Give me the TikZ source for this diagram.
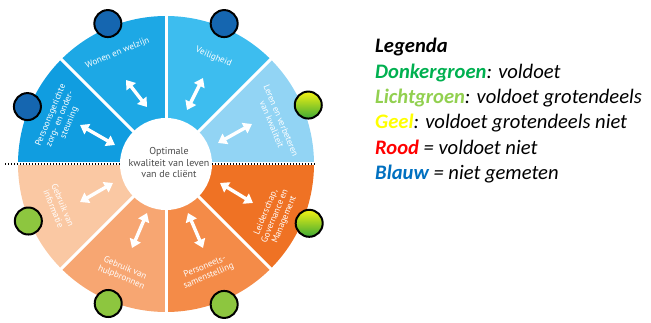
\documentclass[tikz,border=0pt]{standalone}
\usepackage{fontspec}
\setmainfont{PT Sans}
\newfontfamily\legendfont{Carlito}
\usetikzlibrary{arrows.meta}

\definecolor{segLeren}{HTML}{92D4F4}
\definecolor{segVeilig}{HTML}{3DBDEF}
\definecolor{segWonen}{HTML}{1DA8E5}
\definecolor{segPersoon}{HTML}{109DE0}
\definecolor{segInfo}{HTML}{FAC8A3}
\definecolor{segHulp}{HTML}{F7A672}
\definecolor{segPersoneel}{HTML}{F48B48}
\definecolor{segLeider}{HTML}{EF7224}
\definecolor{dotBlue}{HTML}{1566B0}
\definecolor{dotGreen}{HTML}{8DC63F}
\definecolor{dotYellow}{HTML}{F4F213}
\definecolor{dotDark}{HTML}{3DAA35}
\definecolor{centerText}{HTML}{4A4A4A}
\definecolor{donkergroen}{HTML}{00B050}
\definecolor{lichtgroen}{HTML}{92D050}
\definecolor{geel}{HTML}{FFFF00}
\definecolor{rood}{HTML}{FF0000}
\definecolor{blauw}{HTML}{0070C0}

\begin{document}
\begin{tikzpicture}[x=1pt, y=1pt,
  seglabel/.style={text=white, font=\fontsize{9}{10}\selectfont, align=center, inner sep=0pt},
  dualarrow/.style={white, line width=3.4pt, {Triangle[width=11.5pt,length=8.5pt]}-{Triangle[width=11.5pt,length=8.5pt]}},
  statusdot/.style={circle, draw=black, line width=2pt, minimum size=27pt, inner sep=0pt},
  legendline/.style={anchor=base west, inner sep=0pt, font=\legendfont\itshape\fontsize{20.6}{24}\selectfont}]
\useasboundingbox (0,0) rectangle (651,-323);

\begin{scope}[shift={(166,-164)}]
% segments of the wheel
\foreach \a/\c in {0/segLeren, 45/segVeilig, 90/segWonen, 135/segPersoon,
                   180/segInfo, 225/segHulp, 270/segPersoneel, 315/segLeider}
  \fill [\c] (0,0) -- (\a:148) arc [start angle=\a, delta angle=45, radius=148] -- cycle;
\foreach \a in {45,90,135,225,270,315}
  \draw [white, line width=3pt] (0,0) -- (\a:150);
\draw [white, line width=3pt] (-150,0) -- (150,0);
\draw [black, line width=1.4pt, dash pattern=on 1.4pt off 1.6pt] (-161,0) -- (150,0);
\fill [white] (0,0) circle [radius=46];

\node [align=center, text=centerText, font=\fontsize{10}{11.5}\selectfont] (hart) at (3,1)
  {Optimale\\kwaliteit van leven\\van de cliënt};

% arrows
\coordinate (a1) at (86,40);   \coordinate (b1) at (52,21);
\coordinate (a2) at (37,86);   \coordinate (b2) at (21,54);
\coordinate (a3) at (-40,84);  \coordinate (b3) at (-19,57);
\coordinate (a4) at (-86,39);  \coordinate (b4) at (-51,19);
\coordinate (a5) at (-53,-19); \coordinate (b5) at (-86,-38);
\coordinate (a6) at (-19,-49); \coordinate (b6) at (-34,-84);
\coordinate (a7) at (22,-49);  \coordinate (b7) at (37,-84);
\coordinate (a8) at (54,-19);  \coordinate (b8) at (87,-39);
\foreach \i in {1,...,8}
  \draw [dualarrow] (a\i) -- (b\i);

% labels
\node [seglabel, rotate=-67.5] (lblLeren) at (20.6:118) {Leren en verbeteren\\van kwaliteit};
\node [seglabel, rotate=-22.5] (lblVeilig) at (66:117) {Veiligheid};
\node [seglabel, rotate=22.5] (lblWonen) at (113.6:121) {Wonen en welzijn};
\node [seglabel, rotate=67.5] (lblPersoon) at (157:115) {Persoonsgerichte\\zorg- en onder-\\steuning};
\node [seglabel, rotate=-67.5] (lblInfo) at (201.7:116) {Gebruik van\\informatie};
\node [seglabel, rotate=-22.5] (lblHulp) at (248.5:117) {Gebruik van\\hulpbronnen};
\node [seglabel, rotate=22.5] (lblPersoneel) at (290.8:115) {Personeels-\\samenstelling};
\node [seglabel, rotate=67.5] (lblLeider) at (-25.5:121) {Leiderschap,\\Governance en\\Management};

% status dots
\node [statusdot, top color=dotYellow, bottom color=dotDark] (dotLeren) at (22.5:154) {};
\node [statusdot, fill=dotBlue] (dotVeilig) at (67.5:152) {};
\node [statusdot, fill=dotBlue] (dotWonen) at (112.5:152) {};
\node [statusdot, fill=dotBlue] (dotPersoon) at (157.5:150) {};
\node [statusdot, fill=dotGreen] (dotInfo) at (202.5:149) {};
\node [statusdot, fill=dotGreen] (dotHulp) at (247.5:151) {};
\node [statusdot, fill=dotGreen] (dotPersoneel) at (292.5:152) {};
\node [statusdot, top color=dotYellow, bottom color=dotDark] (dotLeider) at (-22.5:155) {};
\end{scope}

% legend
\node [legendline] (legTitle) at (375,-53) {\bfseries Legenda};
\node [legendline] (legDonker) at (375,-78.3) {\textbf{\color{donkergroen}Donkergroen}: voldoet};
\node [legendline] (legLicht) at (375,-103.6) {\textbf{\color{lichtgroen}Lichtgroen}: voldoet grotendeels};
\node [legendline] (legGeel) at (375,-128.9) {\textbf{\color{geel}Geel}: voldoet grotendeels niet};
\node [legendline] (legRood) at (375,-154.2) {\textbf{\color{rood}Rood} = voldoet niet};
\node [legendline] (legBlauw) at (375,-179.5) {\textbf{\color{blauw}Blauw} = niet gemeten};
\end{tikzpicture}
\end{document}
